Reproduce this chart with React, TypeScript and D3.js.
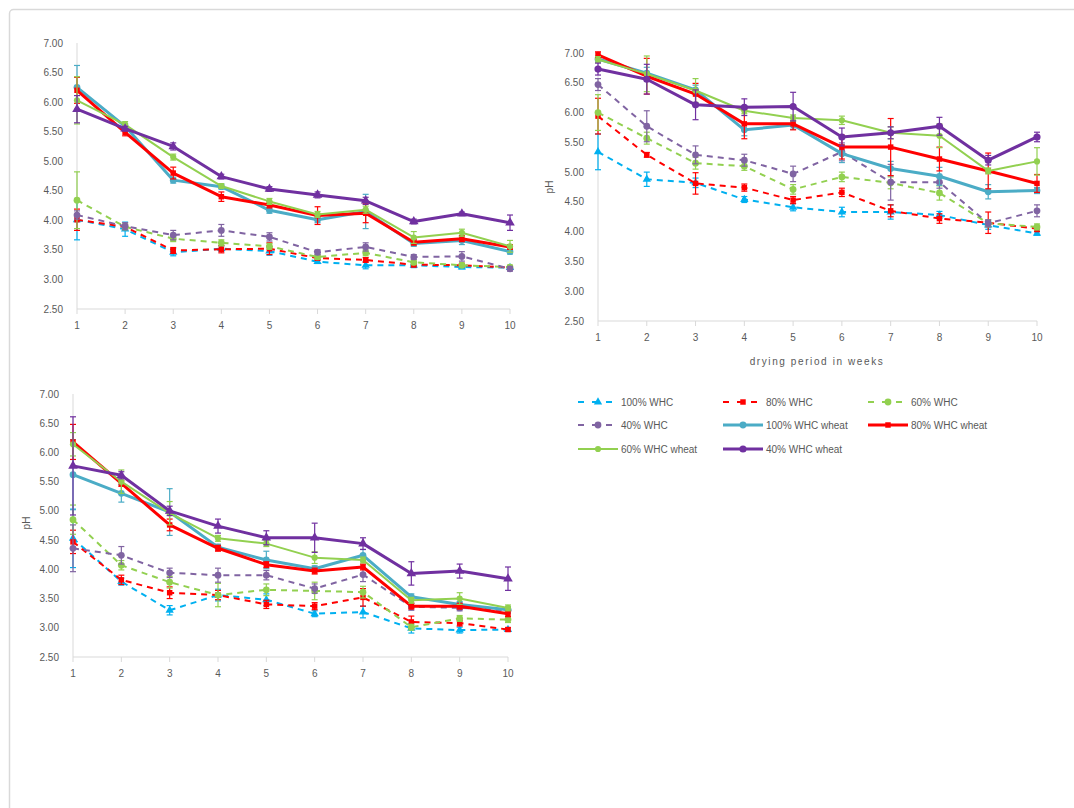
import React from "react";
import * as d3 from "d3";

const weeks = [1, 2, 3, 4, 5, 6, 7, 8, 9, 10];
const yTicks = [2.5, 3, 3.5, 4, 4.5, 5, 5.5, 6, 6.5, 7];
const seriesNames = ["100% WHC", "80% WHC", "60% WHC", "40% WHC", "100% WHC wheat", "80% WHC wheat", "60% WHC wheat", "40% WHC wheat"];

// Chart A (top left)
const a100 = [4.01, 3.85, 3.46, 3.52, 3.48, 3.30, 3.24, 3.24, 3.21, 3.20];
const a80 = [4.01, 3.89, 3.49, 3.51, 3.52, 3.36, 3.33, 3.25, 3.24, 3.20];
const a60 = [4.34, 3.89, 3.69, 3.62, 3.56, 3.38, 3.45, 3.29, 3.24, 3.21];
const a40 = [4.09, 3.90, 3.75, 3.83, 3.72, 3.46, 3.55, 3.38, 3.39, 3.18];
const a100w = [6.25, 5.59, 4.68, 4.57, 4.17, 4.01, 4.15, 3.61, 3.66, 3.47];
const a80w = [6.20, 5.49, 4.80, 4.40, 4.26, 4.08, 4.12, 3.63, 3.69, 3.55];
const a60w = [6.03, 5.62, 5.07, 4.58, 4.32, 4.10, 4.18, 3.71, 3.79, 3.56];
const a40w = [5.88, 5.55, 5.25, 4.74, 4.53, 4.43, 4.33, 3.98, 4.11, 3.96];
const a100e = [0.34, 0.12, 0.06, 0.05, 0.07, 0.03, 0.06, 0.04, 0.03, 0.03];
const a80e = [0.18, 0.04, 0.05, 0.06, 0.1, 0.03, 0.04, 0.04, 0.03, 0.03];
const a60e = [0.48, 0.05, 0.05, 0.05, 0.05, 0.04, 0.05, 0.04, 0.03, 0.03];
const a40e = [0.07, 0.06, 0.08, 0.1, 0.07, 0.04, 0.07, 0.04, 0.08, 0.04];
const a100we = [0.37, 0.05, 0.05, 0.04, 0.05, 0.05, 0.29, 0.05, 0.07, 0.04];
const a80we = [0.22, 0.06, 0.1, 0.08, 0.05, 0.15, 0.16, 0.05, 0.05, 0.04];
const a60we = [0.4, 0.05, 0.05, 0.04, 0.05, 0.05, 0.06, 0.1, 0.06, 0.1];
const a40we = [0.23, 0.04, 0.06, 0.04, 0.04, 0.05, 0.06, 0.04, 0.03, 0.13];

// Chart B (top right)
const b100 = [5.34, 4.88, 4.82, 4.54, 4.41, 4.33, 4.33, 4.28, 4.11, 3.97];
const b80 = [5.94, 5.29, 4.81, 4.74, 4.53, 4.66, 4.35, 4.22, 4.15, 4.05];
const b60 = [6.00, 5.57, 5.15, 5.10, 4.71, 4.92, 4.82, 4.65, 4.14, 4.08];
const b40 = [6.47, 5.77, 5.29, 5.20, 4.97, 5.34, 4.83, 4.83, 4.14, 4.35];
const b100w = [6.90, 6.66, 6.38, 5.71, 5.79, 5.31, 5.06, 4.93, 4.67, 4.69];
const b80w = [6.97, 6.61, 6.31, 5.81, 5.81, 5.42, 5.42, 5.22, 5.02, 4.81];
const b60w = [6.89, 6.65, 6.37, 6.03, 5.91, 5.87, 5.66, 5.61, 5.02, 5.18];
const b40w = [6.73, 6.56, 6.13, 6.09, 6.10, 5.59, 5.66, 5.77, 5.20, 5.59];
const b100e = [0.3, 0.12, 0.08, 0.05, 0.06, 0.08, 0.12, 0.06, 0.07, 0.03];
const b80e = [0.3, 0.04, 0.18, 0.06, 0.06, 0.07, 0.1, 0.08, 0.18, 0.05];
const b60e = [0.3, 0.1, 0.1, 0.07, 0.08, 0.08, 0.1, 0.12, 0.06, 0.05];
const b40e = [0.1, 0.26, 0.15, 0.1, 0.13, 0.15, 0.3, 0.1, 0.06, 0.1];
const b100we = [0.05, 0.1, 0.08, 0.1, 0.07, 0.15, 0.12, 0.15, 0.12, 0.05];
const b80we = [0.05, 0.3, 0.18, 0.25, 0.1, 0.2, 0.48, 0.2, 0.3, 0.15];
const b60we = [0.05, 0.3, 0.2, 0.05, 0.05, 0.07, 0.1, 0.2, 0.05, 0.23];
const b40we = [0.1, 0.25, 0.25, 0.14, 0.24, 0.15, 0.1, 0.15, 0.08, 0.08];

// Chart C (bottom left)
const c100 = [4.53, 3.79, 3.30, 3.56, 3.48, 3.24, 3.27, 2.99, 2.96, 2.97];
const c80 = [4.47, 3.82, 3.60, 3.56, 3.40, 3.37, 3.52, 3.10, 3.08, 2.97];
const c60 = [4.85, 4.07, 3.78, 3.56, 3.65, 3.63, 3.61, 3.01, 3.16, 3.14];
const c40 = [4.36, 4.24, 3.94, 3.90, 3.90, 3.67, 3.91, 3.36, 3.34, 3.30];
const c100w = [5.62, 5.30, 4.98, 4.38, 4.16, 4.01, 4.24, 3.53, 3.40, 3.31];
const c80w = [6.18, 5.47, 4.76, 4.36, 4.08, 3.97, 4.04, 3.37, 3.37, 3.24];
const c60w = [6.14, 5.50, 4.96, 4.53, 4.44, 4.20, 4.16, 3.47, 3.50, 3.34];
const c40w = [5.77, 5.61, 5.00, 4.74, 4.54, 4.54, 4.44, 3.93, 3.97, 3.84];
const c100e = [0.5, 0.06, 0.08, 0.1, 0.1, 0.05, 0.1, 0.08, 0.05, 0.03];
const c80e = [0.2, 0.08, 0.1, 0.08, 0.07, 0.06, 0.15, 0.1, 0.05, 0.03];
const c60e = [0.25, 0.08, 0.1, 0.2, 0.1, 0.15, 0.1, 0.05, 0.05, 0.05];
const c40e = [0.4, 0.15, 0.08, 0.12, 0.08, 0.08, 0.12, 0.06, 0.05, 0.05];
const c100we = [0.6, 0.15, 0.4, 0.05, 0.15, 0.05, 0.1, 0.05, 0.05, 0.05];
const c80we = [0.3, 0.05, 0.1, 0.05, 0.05, 0.05, 0.05, 0.05, 0.05, 0.05];
const c60we = [0.2, 0.2, 0.2, 0.05, 0.05, 0.1, 0.05, 0.05, 0.1, 0.05];
const c40we = [0.84, 0.06, 0.08, 0.12, 0.12, 0.25, 0.1, 0.2, 0.12, 0.2];

type Style = { color: string; dashed: boolean; width: number; symbol: d3.SymbolType; size: number };
const styles: Style[] = [
  { color: "#00B0F0", dashed: true, width: 2, symbol: d3.symbolTriangle, size: 30 },
  { color: "#FF0000", dashed: true, width: 2, symbol: d3.symbolSquare, size: 30 },
  { color: "#92D050", dashed: true, width: 2, symbol: d3.symbolCircle, size: 36 },
  { color: "#8064A2", dashed: true, width: 2, symbol: d3.symbolCircle, size: 36 },
  { color: "#4BACC6", dashed: false, width: 3, symbol: d3.symbolCircle, size: 36 },
  { color: "#FF0000", dashed: false, width: 3, symbol: d3.symbolSquare, size: 30 },
  { color: "#92D050", dashed: false, width: 2, symbol: d3.symbolCircle, size: 30 },
  { color: "#7030A0", dashed: false, width: 3, symbol: d3.symbolTriangle, size: 40 },
];

const charts = [
  { x0: 77, x1: 510, yTop: 43, yBot: 309, vals: [a100, a80, a60, a40, a100w, a80w, a60w, a40w], errs: [a100e, a80e, a60e, a40e, a100we, a80we, a60we, a40we], ylab: null as null | { x: number; y: number }, xlab: null as null | { x: number; y: number }, purpleSym: d3.symbolTriangle },
  { x0: 598, x1: 1037, yTop: 53, yBot: 321, vals: [b100, b80, b60, b40, b100w, b80w, b60w, b40w], errs: [b100e, b80e, b60e, b40e, b100we, b80we, b60we, b40we], ylab: { x: 553, y: 187 }, xlab: { x: 817, y: 365 }, purpleSym: d3.symbolCircle },
  { x0: 73, x1: 508, yTop: 394, yBot: 657, vals: [c100, c80, c60, c40, c100w, c80w, c60w, c40w], errs: [c100e, c80e, c60e, c40e, c100we, c80we, c60we, c40we], ylab: { x: 30, y: 523 }, xlab: null, purpleSym: d3.symbolTriangle },
];

const FONT = "'Liberation Sans', Arial, sans-serif";
const TXT = "#595959";

function Chart({ c }: { c: typeof charts[number] }) {
  const x = d3.scaleLinear().domain([1, 10]).range([c.x0, c.x1]);
  const y = d3.scaleLinear().domain([2.5, 7]).range([c.yBot, c.yTop]);
  const line = d3.line<number>().x((_, i) => x(weeks[i])).y((v) => y(v));
  return (
    <g>
      <line x1={c.x0} x2={c.x0} y1={c.yTop} y2={c.yBot} stroke="#D9D9D9" strokeWidth={1} />
      <line x1={c.x0} x2={c.x1} y1={c.yBot} y2={c.yBot} stroke="#D9D9D9" strokeWidth={1} />
      {weeks.map((w) => (
        <g key={w}>
          <line x1={x(w)} x2={x(w)} y1={c.yBot} y2={c.yBot + 5} stroke="#D9D9D9" />
          <text x={x(w)} y={c.yBot + 20} textAnchor="middle" fontSize={10} fill={TXT} fontFamily={FONT}>{w}</text>
        </g>
      ))}
      {yTicks.map((t) => (
        <text key={t} x={c.x0 - 14} y={y(t) + 3.5} textAnchor="end" fontSize={10} fill={TXT} fontFamily={FONT}>{t.toFixed(2)}</text>
      ))}
      {c.ylab && (
        <text transform={`translate(${c.ylab.x},${c.ylab.y}) rotate(-90)`} textAnchor="middle" fontSize={10} fill={TXT} fontFamily={FONT}>pH</text>
      )}
      {c.xlab && (
        <text x={c.xlab.x} y={c.xlab.y} textAnchor="middle" fontSize={10} fill={TXT} fontFamily={FONT} letterSpacing={1.6}>drying period in weeks</text>
      )}
      {c.vals.map((vals, si) => {
        const st = styles[si];
        const sym = si === 7 ? c.purpleSym : st.symbol;
        return (
          <g key={si}>
            <path d={line(vals) || ""} fill="none" stroke={st.color} strokeWidth={st.width} strokeDasharray={st.dashed ? "6,5" : undefined} strokeLinejoin="round" />
            {vals.map((v, i) => {
              const e = c.errs[si][i];
              const cx = x(weeks[i]);
              return (
                <g key={i} stroke={st.color} strokeWidth={1.2}>
                  <line x1={cx} x2={cx} y1={y(v + e)} y2={y(v - e)} />
                  <line x1={cx - 3} x2={cx + 3} y1={y(v + e)} y2={y(v + e)} />
                  <line x1={cx - 3} x2={cx + 3} y1={y(v - e)} y2={y(v - e)} />
                </g>
              );
            })}
            {vals.map((v, i) => (
              <path key={"m" + i} d={d3.symbol().type(sym).size(st.size)() || ""} transform={`translate(${x(weeks[i])},${y(v)})`} fill={st.color} />
            ))}
          </g>
        );
      })}
    </g>
  );
}

const legendCols = [578, 723, 868];
const legendRows = [402, 425, 449];

function Legend() {
  return (
    <g>
      {seriesNames.map((name, i) => {
        const st = styles[i];
        const col = i % 3;
        const row = Math.floor(i / 3);
        const lx = legendCols[col];
        const ly = legendRows[row];
        const sym = i === 7 ? d3.symbolCircle : st.symbol;
        return (
          <g key={name}>
            <line x1={lx} x2={lx + 40} y1={ly} y2={ly} stroke={st.color} strokeWidth={st.width} strokeDasharray={st.dashed ? "6,8" : undefined} />
            <path d={d3.symbol().type(sym).size(st.size)() || ""} transform={`translate(${lx + 20},${ly})`} fill={st.color} />
            <text x={lx + 43} y={ly + 3.5} fontSize={10} fill={TXT} fontFamily={FONT}>{name}</text>
          </g>
        );
      })}
    </g>
  );
}

export default function App() {
  return (
    <div style={{ position: "fixed", left: 0, top: 0 }}>
      <svg width={1074} height={808} style={{ display: "block", background: "#fff" }}>
        <rect x={9.5} y={9.5} width={1080} height={820} rx={4} fill="#fff" stroke="#D9D9D9" strokeWidth={1.5} />
        {charts.map((c, i) => (
          <Chart key={i} c={c} />
        ))}
        <Legend />
      </svg>
    </div>
  );
}
